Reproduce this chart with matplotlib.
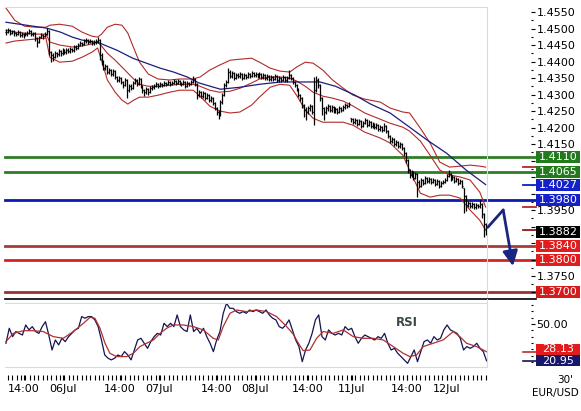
import numpy as np
import matplotlib
matplotlib.use("Agg")
import matplotlib.pyplot as plt
from matplotlib.patches import Rectangle
from matplotlib.lines import Line2D
from matplotlib.ticker import MultipleLocator, FormatStrFormatter, FuncFormatter

W, H = 581, 411
PT = 0.72  # points per pixel at 100 dpi

# EUR/USD 30' bars, prices as 1/10000 above 1.0000
close = [4489, 4495, 4486, 4492, 4486, 4483, 4489, 4480, 4483, 4480,
         4483, 4486, 4492, 4483, 4486, 4471, 4459, 4474, 4480, 4477,
         4483, 4492, 4428, 4419, 4413, 4425, 4422, 4431, 4425, 4434,
         4428, 4434, 4431, 4438, 4434, 4444, 4441, 4450, 4456, 4453,
         4462, 4465, 4459, 4462, 4456, 4459, 4462, 4465, 4419, 4398,
         4380, 4386, 4368, 4374, 4362, 4371, 4353, 4344, 4350, 4338,
         4328, 4344, 4313, 4325, 4319, 4335, 4344, 4331, 4347, 4325,
         4313, 4307, 4316, 4307, 4319, 4322, 4325, 4331, 4325, 4331,
         4328, 4335, 4331, 4338, 4331, 4335, 4341, 4335, 4341, 4335,
         4331, 4338, 4325, 4335, 4331, 4338, 4347, 4331, 4298, 4307,
         4295, 4304, 4289, 4298, 4283, 4289, 4274, 4259, 4247, 4238,
         4277, 4298, 4328, 4338, 4368, 4356, 4365, 4350, 4359, 4356,
         4362, 4350, 4359, 4353, 4362, 4356, 4365, 4359, 4362, 4356,
         4362, 4353, 4359, 4350, 4356, 4347, 4353, 4347, 4356, 4344,
         4350, 4344, 4353, 4344, 4350, 4359, 4350, 4338, 4328, 4316,
         4298, 4289, 4268, 4253, 4247, 4259, 4265, 4247, 4313, 4344,
         4328, 4289, 4259, 4247, 4259, 4265, 4253, 4262, 4250, 4256,
         4247, 4259, 4253, 4262, 4268, 4265, 4271, 4225, 4216, 4222,
         4210, 4219, 4204, 4213, 4222, 4207, 4216, 4204, 4210, 4201,
         4207, 4195, 4201, 4192, 4204, 4189, 4174, 4159, 4165, 4150,
         4156, 4144, 4150, 4138, 4122, 4101, 4071, 4056, 4065, 4047,
         4059, 4035, 4022, 4041, 4032, 4047, 4038, 4044, 4035, 4041,
         4028, 4038, 4022, 4032, 4035, 4041, 4053, 4059, 4044, 4050,
         4038, 4044, 4032, 4038, 4022, 3992, 3965, 3971, 3962, 3968,
         3959, 3965, 3962, 3968, 3938, 3907, 3882]
high = [4498, 4501, 4498, 4497, 4495, 4490, 4495, 4492, 4488, 4486,
        4489, 4492, 4498, 4495, 4490, 4489, 4474, 4478, 4486, 4484,
        4489, 4501, 4495, 4431, 4425, 4431, 4430, 4437, 4435, 4440,
        4438, 4441, 4440, 4444, 4442, 4450, 4449, 4456, 4462, 4460,
        4468, 4471, 4469, 4468, 4466, 4465, 4468, 4474, 4468, 4425,
        4404, 4392, 4390, 4380, 4378, 4377, 4374, 4356, 4356, 4353,
        4341, 4350, 4347, 4331, 4331, 4341, 4350, 4347, 4353, 4350,
        4328, 4316, 4322, 4319, 4325, 4328, 4331, 4338, 4335, 4338,
        4335, 4341, 4338, 4344, 4341, 4341, 4347, 4344, 4347, 4344,
        4338, 4344, 4341, 4341, 4338, 4344, 4356, 4350, 4335, 4313,
        4310, 4310, 4307, 4304, 4301, 4295, 4292, 4277, 4262, 4253,
        4283, 4304, 4335, 4344, 4380, 4374, 4371, 4368, 4365, 4365,
        4368, 4365, 4365, 4362, 4368, 4365, 4371, 4368, 4368, 4365,
        4368, 4365, 4365, 4362, 4362, 4359, 4359, 4356, 4362, 4359,
        4356, 4353, 4359, 4356, 4356, 4374, 4362, 4353, 4341, 4331,
        4319, 4301, 4292, 4271, 4262, 4265, 4271, 4268, 4353, 4356,
        4350, 4331, 4292, 4262, 4265, 4271, 4268, 4268, 4265, 4262,
        4259, 4265, 4262, 4268, 4274, 4271, 4277, 4229, 4228, 4228,
        4225, 4225, 4222, 4219, 4228, 4225, 4222, 4219, 4216, 4213,
        4213, 4210, 4207, 4204, 4213, 4207, 4192, 4177, 4171, 4168,
        4162, 4159, 4156, 4153, 4141, 4125, 4104, 4074, 4071, 4068,
        4065, 4062, 4041, 4047, 4044, 4053, 4050, 4050, 4047, 4047,
        4044, 4044, 4041, 4038, 4041, 4047, 4059, 4071, 4062, 4056,
        4053, 4050, 4047, 4044, 4041, 4016, 3995, 3977, 3974, 3974,
        3971, 3971, 3968, 3980, 3971, 3941, 3910]
low = [4480, 4485, 4480, 4483, 4478, 4477, 4480, 4474, 4474, 4471,
       4477, 4478, 4483, 4477, 4478, 4462, 4444, 4455, 4470, 4468,
       4474, 4480, 4420, 4398, 4401, 4410, 4413, 4418, 4416, 4420,
       4422, 4424, 4425, 4427, 4428, 4430, 4435, 4437, 4446, 4447,
       4449, 4457, 4453, 4455, 4450, 4451, 4454, 4457, 4404, 4389,
       4374, 4374, 4362, 4362, 4355, 4356, 4347, 4338, 4338, 4331,
       4319, 4325, 4289, 4307, 4313, 4316, 4331, 4325, 4328, 4319,
       4304, 4295, 4301, 4298, 4304, 4313, 4316, 4322, 4319, 4322,
       4322, 4325, 4325, 4328, 4325, 4328, 4331, 4328, 4331, 4328,
       4325, 4328, 4319, 4322, 4325, 4328, 4335, 4325, 4286, 4292,
       4289, 4289, 4283, 4286, 4277, 4277, 4268, 4253, 4238, 4225,
       4235, 4271, 4295, 4322, 4335, 4350, 4350, 4344, 4347, 4350,
       4350, 4344, 4347, 4347, 4350, 4350, 4353, 4353, 4353, 4350,
       4350, 4347, 4347, 4344, 4344, 4341, 4341, 4341, 4344, 4338,
       4338, 4338, 4341, 4338, 4338, 4347, 4344, 4331, 4322, 4310,
       4292, 4280, 4259, 4232, 4223, 4241, 4250, 4241, 4207, 4307,
       4319, 4280, 4238, 4222, 4241, 4250, 4247, 4247, 4244, 4244,
       4241, 4244, 4247, 4250, 4256, 4259, 4262, 4216, 4210, 4210,
       4204, 4207, 4198, 4201, 4210, 4201, 4204, 4198, 4198, 4195,
       4195, 4189, 4189, 4186, 4189, 4183, 4168, 4153, 4153, 4144,
       4144, 4138, 4138, 4132, 4113, 4092, 4062, 4047, 4050, 4041,
       4044, 3989, 4016, 4019, 4025, 4028, 4032, 4032, 4028, 4032,
       4022, 4025, 4016, 4019, 4028, 4032, 4038, 4050, 4038, 4041,
       4032, 4035, 4025, 4028, 4016, 3941, 3947, 3959, 3956, 3956,
       3953, 3953, 3956, 3956, 3926, 3868, 3875]

# Bollinger bands and moving average (bar index, price)
band_idx = [0, 4.5, 9.5, 15, 20.5, 22.5, 27.5, 34, 39, 44, 47, 49, 52, 56, 59.5,
            62.5, 65.5, 68.5, 73, 78, 84, 89, 96, 99.5, 104.5, 109.5, 115, 120,
            126, 130, 135.5, 140.5, 145.5, 149, 153.5, 157.5, 162.5, 167.5, 173,
            178, 184, 192, 197, 203.5, 207, 212.5, 217.5, 222.5, 227.5, 233, 238,
            243, 246]
bb_upper = [4562, 4525, 4507, 4504, 4504, 4510, 4513, 4507, 4489, 4477,
            4474, 4483, 4504, 4513, 4510, 4486, 4441, 4398, 4362, 4347,
            4344, 4347, 4347, 4353, 4374, 4389, 4404, 4407, 4410, 4398,
            4380, 4371, 4368, 4383, 4398, 4395, 4374, 4344, 4319, 4298,
            4286, 4277, 4259, 4247, 4244, 4198, 4153, 4095, 4080, 4083,
            4086, 4083, 4080]
bb_mid = [4495, 4489, 4486, 4483, 4483, 4459, 4450, 4444, 4447, 4453,
          4459, 4447, 4425, 4404, 4383, 4365, 4347, 4331, 4325, 4325,
          4328, 4331, 4331, 4325, 4313, 4307, 4310, 4319, 4335, 4347,
          4353, 4353, 4350, 4341, 4325, 4307, 4295, 4289, 4280, 4265,
          4244, 4225, 4213, 4201, 4189, 4159, 4116, 4071, 4056, 4050,
          4041, 4004, 3959]
bb_lower = [4456, 4462, 4465, 4468, 4471, 4413, 4398, 4401, 4413, 4428,
            4441, 4404, 4344, 4307, 4283, 4271, 4283, 4292, 4292, 4298,
            4307, 4313, 4313, 4295, 4265, 4250, 4244, 4247, 4268, 4292,
            4322, 4331, 4328, 4298, 4253, 4228, 4216, 4216, 4216, 4207,
            4186, 4168, 4153, 4116, 4071, 4001, 3989, 3995, 3995, 3986,
            3950, 3919, 3889]
ma_idx = [0, 7, 14, 21, 28, 34, 39, 48, 57, 65, 72, 79, 86, 93, 99, 110, 120,
          130, 141, 151, 161, 169, 179, 187, 197, 207, 216, 226, 236, 246]
ma_val = [4519, 4513, 4507, 4501, 4489, 4474, 4465, 4456, 4434, 4410, 4395,
          4380, 4368, 4353, 4335, 4316, 4322, 4331, 4338, 4338, 4338, 4325,
          4298, 4271, 4244, 4201, 4162, 4122, 4071, 4027]

# support / resistance levels
levels = [1.4110, 1.4065, 1.3980, 1.3840, 1.3800, 1.3700]
level_line = ['#2f7d27', '#2f7d27', '#0b1ab0', '#a83a3a', '#d22424', '#9a3030']
level_box = ['#217a1c', '#217a1c', '#1420c8', '#e01c1c', '#e01c1c', '#d41c1c']
# axis labels hidden behind the value boxes
covered = [1.4100, 1.4050, 1.4000, 1.3900, 1.3850, 1.3800, 1.3700]

# projected path
proj_idx = [247.0, 255.0, 260.0]
proj_price = [1.3897, 1.3950, 1.3780]

# RSI and its signal line
rsi = [34.8, 46.6, 40.0, 44.0, 42.6, 41.3, 49.2, 45.3, 47.9, 44.0,
       42.6, 47.9, 51.8, 41.3, 29.5, 37.4, 33.5, 38.7, 36.1, 40.0,
       42.6, 45.3, 46.6, 55.8, 54.5, 55.8, 55.8, 53.2, 47.9, 37.4,
       25.6, 23.0, 21.7, 23.0, 25.6, 24.3, 28.2, 25.6, 21.7, 29.5,
       37.4, 38.7, 34.8, 30.8, 36.1, 40.0, 42.6, 41.3, 50.5, 47.9,
       50.5, 47.9, 57.1, 47.9, 45.3, 44.0, 57.1, 44.0, 46.6, 42.6,
       46.6, 40.0, 34.8, 28.2, 37.4, 44.0, 58.4, 66.3, 62.3, 62.3,
       59.7, 58.4, 59.7, 58.4, 61.0, 59.7, 61.0, 59.7, 58.4, 61.0,
       57.1, 54.5, 53.2, 47.9, 46.6, 49.2, 53.2, 45.3, 37.4, 32.2,
       20.3, 29.5, 34.8, 42.6, 53.2, 57.1, 40.0, 37.4, 45.3, 42.6,
       41.3, 42.6, 41.3, 47.9, 45.3, 46.6, 40.0, 34.8, 38.7, 41.3,
       40.0, 38.7, 37.4, 40.0, 38.7, 42.6, 34.8, 29.5, 30.8, 26.9,
       24.3, 21.7, 19.0, 24.3, 29.5, 20.3, 28.2, 36.1, 37.4, 34.8,
       40.0, 37.4, 38.7, 45.3, 49.2, 45.3, 44.0, 42.6, 38.7, 29.5,
       32.2, 30.8, 32.2, 34.8, 30.8, 28.2, 20.95]
sig_idx = [0, 3.8, 8.9, 14, 19.1, 24.3, 29.4, 34.5, 39.7, 43.1, 45.6, 48.2,
           50.8, 53.3, 56.7, 61.9, 65.3, 68.7, 72.1, 75.6, 79, 82.4, 85.8,
           90.9, 96.1, 101.2, 106.3, 108.9, 111.4, 114.9, 118.3, 123.4, 128.5,
           133.7, 138.8, 143.9, 147.3, 149.5, 152.4, 155.9, 159.3, 162.7, 167.8,
           173, 178.1, 183.2, 188.3, 193.5, 198.6, 203.7, 207.1, 210.6, 214,
           219.1, 224.2, 229.4, 232.8, 236.2, 241.3, 246.5]
sig_val = [36.1, 42.6, 44.7, 44.7, 44.0, 40.0, 38.7, 44.0, 50.5, 55.2, 54.5,
           46.6, 34.8, 26.9, 24.3, 24.3, 26.9, 32.2, 34.8, 37.4, 42.6, 46.6,
           49.2, 49.2, 47.9, 45.3, 38.7, 37.4, 47.9, 58.4, 61.0, 59.7, 61.0,
           59.7, 55.8, 48.0, 42.0, 36.0, 29.0, 29.5, 38.7, 44.0, 42.6, 45.3,
           40.0, 38.7, 38.7, 37.4, 32.2, 26.9, 24.3, 25.6, 32.2, 34.8, 37.4,
           44.0, 40.0, 34.8, 32.2, 28.13]

tick_pos = [9, 29, 58.5, 78.5, 108, 128, 154.5, 177.5, 205.5, 226]
tick_lab = ['14:00', '06Jul', '14:00', '07Jul', '14:00', '08Jul',
            '14:00', '11Jul', '14:00', '12Jul']

c = 1 + np.array(close) / 10000
h = 1 + np.array(high) / 10000
l = 1 + np.array(low) / 10000
idx = np.arange(len(c))
o = np.clip(np.r_[c[0], c[:-1]], l, h)
px = lambda v: 1 + np.array(v) / 10000

GRAY = '#d5dbe3'
BB = '#b22a2a'
NAVY = '#1c1c7a'

fig = plt.figure(figsize=(W / 100, H / 100), dpi=100)
ax = fig.add_axes([5 / W, 1 - 299 / H, 482 / W, 292 / H])
ar = fig.add_axes([5 / W, 1 - 367 / H, 482 / W, 64 / H])

# --- price panel ---
ax.set_xlim(-0.5, 246.7)
ax.set_ylim(1.36803, 1.45652)

for lv, lc in zip(levels, level_line):
    ax.plot([0, 1.1017], [lv, lv], transform=ax.get_yaxis_transform(),
            color=lc, lw=2, clip_on=False, zorder=1)

ax.plot(band_idx, px(bb_upper), color=BB, lw=0.8, zorder=2)
ax.plot(band_idx, px(bb_mid), color=BB, lw=0.8, zorder=2)
ax.plot(band_idx, px(bb_lower), color=BB, lw=0.8, zorder=2)
ax.plot(ma_idx, px(ma_val), color=NAVY, lw=0.9, zorder=2)

ax.vlines(idx, l, h, color='black', lw=0.9, zorder=3)
ax.hlines(o, idx - 0.5, idx, color='black', lw=0.9, zorder=3)
ax.hlines(c, idx, idx + 0.5, color='black', lw=0.9, zorder=3)

ax.plot(proj_idx[:2], proj_price[:2], color='#1a2580', lw=2,
        clip_on=False, zorder=4, solid_capstyle='round')
ax.annotate('', xy=(proj_idx[2], proj_price[2]),
            xytext=(proj_idx[1], proj_price[1]),
            arrowprops=dict(arrowstyle='-|>,head_length=0.9,head_width=0.45',
                            color='#1a2580', lw=2, shrinkA=0, shrinkB=0),
            annotation_clip=False, zorder=4)

# last-value stubs
for v, col in [(px(bb_upper[-1]), BB), (px(ma_val[-1]), '#1020c0'),
               (px(bb_mid[-1]), BB), (px(bb_lower[-1]), '#8a1a1a')]:
    ax.plot([1.0747, 1.1017], [v, v], transform=ax.get_yaxis_transform(),
            color=col, lw=1.3, clip_on=False, zorder=2)

X0, X1 = (536 - 5) / 482, (580 - 5) / 482


def tag(a, y, txt, fc, hpx, span_px):
    y0, y1 = a.get_ylim()
    hh = hpx * (y1 - y0) / span_px
    a.add_patch(Rectangle((X0, y - hh / 2), X1 - X0, hh,
                          transform=a.get_yaxis_transform(), fc=fc, ec='none',
                          clip_on=False, zorder=6))
    a.text((X0 + X1) / 2, y, txt, transform=a.get_yaxis_transform(),
           ha='center', va='center', color='white', fontsize=8,
           clip_on=False, zorder=7)


tag(ax, levels[0], '%.4f' % levels[0], level_box[0], 12, 292)
tag(ax, levels[1], '%.4f' % levels[1], level_box[1], 12, 292)
tag(ax, px(ma_val[-1]), '%.4f' % px(ma_val[-1]), '#1420c8', 12, 292)
tag(ax, levels[2], '%.4f' % levels[2], level_box[2], 12, 292)
tag(ax, c[-1], '%.4f' % c[-1], 'black', 12, 292)
for lv, bc in zip(levels[3:], level_box[3:]):
    tag(ax, lv, '%.4f' % lv, bc, 12, 292)


def price_fmt(v, pos):
    if any(abs(v - cv) < 1e-6 for cv in covered):
        return ''
    return '%.4f' % v


ax.yaxis.tick_right()
ax.spines['right'].set_position(('outward', 44 * PT))
ax.spines['right'].set_visible(False)
ax.spines['left'].set_visible(False)
ax.spines['top'].set_color(GRAY)
ax.spines['bottom'].set_visible(False)
ax.plot([0, 1.1017], [0, 0], transform=ax.transAxes, color='black', lw=1.2,
        clip_on=False, zorder=5)
ax.set_yticks(np.round(np.arange(1.3700, 1.4551, 0.005), 4))
ax.yaxis.set_major_formatter(FuncFormatter(price_fmt))
ax.yaxis.set_minor_locator(MultipleLocator(0.0025))
ax.tick_params(axis='y', which='major', length=4 * PT, width=0.8, pad=1,
               labelsize=8, direction='out')
ax.tick_params(axis='y', which='minor', length=2.5 * PT, width=0.8)
ax.set_xticks([])
ax.plot([1, 1], [0, 1], transform=ax.transAxes, color=GRAY, lw=0.8,
        clip_on=False)

# --- RSI panel ---
ar.set_xlim(-0.5, 246.7)
ar.set_ylim(16.1, 66.5)
ar.plot(np.linspace(0, 246.5, len(rsi)), rsi, color='#141450', lw=0.9)
ar.plot(sig_idx, sig_val, color='#b03030', lw=0.9)
ar.text(0.834, 0.69, 'RSI', transform=ar.transAxes, ha='center', va='center',
        fontsize=8.5, fontweight='bold', color='#3a4848')

for v, col in [(sig_val[-1], '#b03030'), (rsi[-1], '#141450')]:
    ar.plot([1.0747, 1.1017], [v, v], transform=ar.get_yaxis_transform(),
            color=col, lw=1.2, clip_on=False)
# red box sits just above the navy one
tag(ar, rsi[-1] + 11.6 * 50.4 / 64, '%.2f' % sig_val[-1], '#e01c1c', 11, 64)
tag(ar, rsi[-1], '%.2f' % rsi[-1], '#16166a', 11, 64)

ar.yaxis.tick_right()
ar.spines['right'].set_position(('outward', 44 * PT))
ar.spines['right'].set_visible(False)
ar.spines['left'].set_visible(False)
ar.spines['top'].set_color(GRAY)
ar.spines['bottom'].set_position(('outward', 8 * PT))
ar.spines['bottom'].set_visible(False)
ar.set_yticks([50])
ar.yaxis.set_major_formatter(FormatStrFormatter('%.2f'))
ar.set_yticks(np.arange(20, 66, 5), minor=True)
ar.tick_params(axis='y', which='major', length=4 * PT, width=0.8, pad=1,
               labelsize=8)
ar.tick_params(axis='y', which='minor', length=2.5 * PT, width=0.8)
ar.set_xticks(tick_pos, labels=tick_lab)
ar.set_xticks(np.linspace(1, 246, 111), minor=True)
ar.tick_params(axis='x', which='both', length=5 * PT, width=0.8,
               direction='out', pad=4 * PT, labelsize=8)
ar.plot([1, 1], [0, 1], transform=ar.transAxes, color=GRAY, lw=0.8,
        clip_on=False)
ar.plot([0, 1], [0, 0], transform=ar.transAxes, color=GRAY, lw=0.8,
        clip_on=False)
fig.add_artist(Line2D([487 / W, 487 / W], [1 - 299 / H, 1 - 303 / H],
                      transform=fig.transFigure, color=GRAY, lw=0.8))

fig.text(565 / W, 1 - 380 / H, "30'", ha='center', va='center', fontsize=7.5)
fig.text(555 / W, 1 - 393 / H, 'EUR/USD', ha='center', va='center',
         fontsize=7.5)

fig.savefig('out.png', dpi=100)
